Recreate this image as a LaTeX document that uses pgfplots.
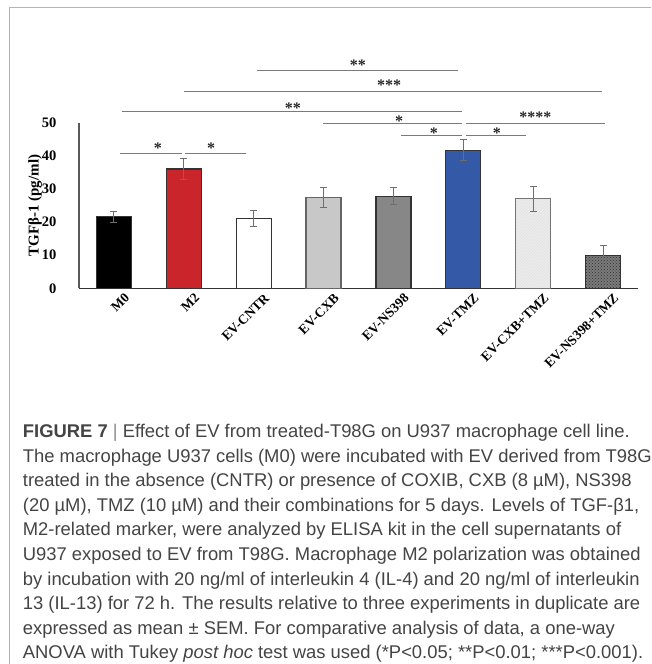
\documentclass[border=0pt]{standalone}
\usepackage{pgfplots}
\pgfplotsset{compat=1.18}
\usetikzlibrary{patterns}
\usepackage{fontspec}
\setmainfont{Liberation Serif}
\newfontfamily\capfont{Liberation Sans}
\definecolor{barred}{HTML}{C9252B}
\definecolor{barblue}{HTML}{3459A6}
\definecolor{lgray}{HTML}{C8C8C8}
\definecolor{mgray}{HTML}{878787}
\definecolor{marble}{HTML}{EDEDED}
\definecolor{granite}{HTML}{7A7A7A}
\definecolor{edge}{HTML}{333333}
\definecolor{errc}{HTML}{6E6E6E}
\definecolor{sigc}{HTML}{7A7A7A}
\definecolor{framec}{HTML}{B4B4B4}
\definecolor{captxt}{HTML}{444444}
\begin{document}
\begin{tikzpicture}[x=1pt,y=1pt]
\useasboundingbox (0,0) rectangle (651,664);
\draw[framec, line width=1pt] (9,0) -- (9,656) -- (651,656);
\begin{axis}[
  at={(79pt,375.7pt)}, anchor=south west,
  scale only axis, width=559pt, height=165.6pt,
  xmin=-0.5, xmax=7.5, ymin=0, ymax=50,
  clip=false,
  axis lines*=left,
  x axis line style={edge, line width=1.3pt},
  y axis line style={black!65, line width=1.1pt},
  tick style={draw=none},
  ytick={0,10,20,30,40,50},
  xtick={0,1,2,3,4,5,6,7},
  xticklabels={M0,M2,EV-CNTR,EV-CXB,EV-NS398,EV-TMZ,EV-CXB+TMZ,EV-NS398+TMZ},
  xticklabel style={rotate=45, anchor=north east, font=\bfseries\fontsize{13.5}{15}\selectfont, inner sep=1pt, yshift=-6pt, xshift=8pt},
  yticklabel style={font=\bfseries\fontsize{14.5}{17}\selectfont, xshift=-19pt},
  /pgf/number format/assume math mode=true,
  ybar, bar width=35pt, bar shift=0pt,
  every axis plot/.append style={draw=edge, line width=1.2pt},
  error bars/y dir=both, error bars/y explicit,
  error bars/error bar style={errc, line width=1pt},
  error bars/error mark options={errc, line width=1pt, rotate=90, mark size=3.5pt},
]
\addplot[fill=black] coordinates {(0,21.6) +- (0,1.7)};
\addplot[fill=barred] coordinates {(1,36.0) +- (0,3.2)};
\addplot[fill=white] coordinates {(2,21.1) +- (0,2.3)};
\addplot[fill=lgray, draw=black!60] coordinates {(3,27.4) +- (0,3.0)};
\addplot[fill=mgray] coordinates {(4,27.8) +- (0,2.5)};
\addplot[fill=barblue] coordinates {(5,41.7) +- (0,3.1)};
\addplot[fill=marble, draw=black!55, postaction={pattern=north east lines, pattern color=black!12}] coordinates {(6,27.0) +- (0,3.7)};
\addplot[fill=granite, postaction={pattern=crosshatch dots, pattern color=black!80}] coordinates {(7,9.85) +- (0,3.1)};
% y label
\node[rotate=90, inner sep=0pt, font=\bfseries\fontsize{15}{18}\selectfont] at (axis cs:-1.13,25) {TGFβ-1 (pg/ml)};
% significance bars
\begin{scope}[sigc, line width=1pt]
\draw (axis cs:2.05,65.9) -- (axis cs:4.92,65.9);
\draw (axis cs:1.00,59.4) -- (axis cs:6.99,59.4);
\draw (axis cs:0.11,53.5) -- (axis cs:4.98,53.5);
\draw (axis cs:2.99,49.7) -- (axis cs:4.98,49.7);
\draw (axis cs:5.04,49.7) -- (axis cs:7.03,49.7);
\draw (axis cs:4.11,46.0) -- (axis cs:4.98,46.0);
\draw (axis cs:5.04,46.0) -- (axis cs:5.90,46.0);
\draw (axis cs:0.09,40.6) -- (axis cs:0.98,40.6);
\draw (axis cs:1.02,40.6) -- (axis cs:1.89,40.6);
\end{scope}
\begin{scope}[every node/.style={anchor=base, inner sep=0pt, font=\bfseries\fontsize{16}{18}\selectfont, text=black!85}]
\node at (axis cs:3.49,65.9) [yshift=0pt] {**};
\node at (axis cs:3.94,59.4) [yshift=1pt] {***};
\node at (axis cs:2.56,53.5) [yshift=-2pt] {**};
\node at (axis cs:4.08,49.7) [yshift=-3pt] {*};
\node at (axis cs:6.03,49.7) [yshift=1pt] {****};
\node at (axis cs:4.58,46.0) [yshift=-3pt] {*};
\node at (axis cs:5.48,46.0) [yshift=-3pt] {*};
\node at (axis cs:0.63,40.6) [yshift=0pt] {*};
\node at (axis cs:1.39,40.6) [yshift=0pt] {*};
\end{scope}
\end{axis}
\begin{scope}[every node/.style={anchor=base west, inner sep=0pt, text=captxt, font=\capfont\fontsize{18.4}{24}\selectfont}]
\node at (22.7,226.5) {\textbf{FIGURE 7} {\color{black!45}|} Effect of EV from treated-T98G on U937 macrophage cell line.};
\node at (22.7,201.9) {The macrophage U937 cells (M0) were incubated with EV derived from T98G};
\node at (22.7,177.3) {treated in the absence (CNTR) or presence of COXIB, CXB (8 µM), NS398};
\node at (22.7,152.7) {(20 µM), TMZ (10 µM) and their combinations for 5 days. Levels of TGF-β1,};
\node at (22.7,128.1) {M2-related marker, were analyzed by ELISA kit in the cell supernatants of};
\node at (22.7,103.5) {U937 exposed to EV from T98G. Macrophage M2 polarization was obtained};
\node at (22.7,78.9) {by incubation with 20 ng/ml of interleukin 4 (IL-4) and 20 ng/ml of interleukin};
\node at (22.7,54.3) {13 (IL-13) for 72 h. The results relative to three experiments in duplicate are};
\node at (22.7,29.7) {expressed as mean ± SEM. For comparative analysis of data, a one-way};
\node at (22.7,5.1) {ANOVA with Tukey \textit{post hoc} test was used (*P<0.05; **P<0.01; ***P<0.001).};
\end{scope}
\end{tikzpicture}
\end{document}
